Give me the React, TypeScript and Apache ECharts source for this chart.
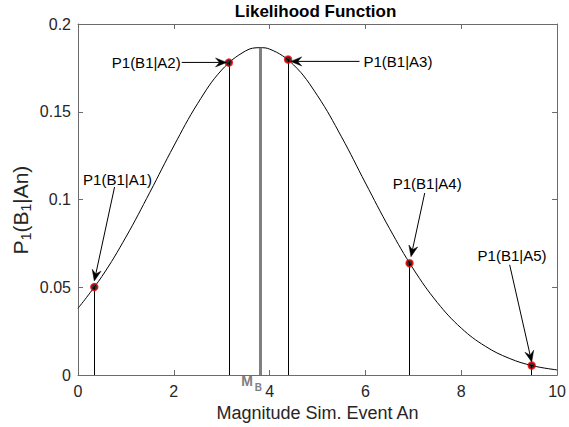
import React, { useEffect, useRef } from "react";
import * as echarts from "echarts";

const FONT = '"Liberation Sans", Arial, Helvetica, sans-serif';

// Likelihood curve
const curveX = [0, 0.5, 1, 1.5, 2, 2.5, 3, 3.5, 3.8, 4, 4.5, 5, 5.5, 6, 6.5, 7, 7.5, 8, 8.5, 9, 9.5, 10];
const curveY = [0.038, 0.0562, 0.0786, 0.1041, 0.1305, 0.1548, 0.1738, 0.1847, 0.1865, 0.1857, 0.1767, 0.1591, 0.1357, 0.1094, 0.0836, 0.0604, 0.0413, 0.0267, 0.0164, 0.0095, 0.0052, 0.0029];

// Marked points P1(B1|An)
const pointLabels = ["P1(B1|A1)", "P1(B1|A2)", "P1(B1|A3)", "P1(B1|A4)", "P1(B1|A5)"];
const pointX = [0.34, 3.15, 4.385, 6.92, 9.47];
const pointY = [0.0501, 0.178, 0.1798, 0.0637, 0.0054];

// M_B line
const mbX = 3.8;
const mbY = 0.1865;

// Tick values
const xTicks = [0, 2, 4, 6, 8, 10];
const yTicks = [0, 0.05, 0.1, 0.15, 0.2];

// Annotation placement (data coordinates)
const annTextX = [0.825, 2.144, 5.959, 7.289, 9.06];
const annTextY = [0.1116, 0.1781, 0.1787, 0.1094, 0.0679];
const annAlign = ["center", "right", "left", "center", "center"];
const arrowFromX = [0.763, 2.165, 5.876, 7.237, 9.01];
const arrowFromY = [0.1071, 0.1781, 0.1787, 0.1037, 0.0628];
const arrowToX = [0.34, 3.1, 4.44, 6.95, 9.47];
const arrowToY = [0.0536, 0.1781, 0.1787, 0.0674, 0.0074];

export default function App() {
  const ref = useRef<HTMLDivElement>(null);

  useEffect(() => {
    const chart = echarts.init(ref.current!, null, { renderer: "svg" });
    const axisColor = "#6b6b6b";
    const labelColor = "#262626";
    const baseX: any = {
      type: "value",
      min: xTicks[0],
      max: xTicks[xTicks.length - 1],
      interval: xTicks[1] - xTicks[0],
      axisLine: { show: true, onZero: false, lineStyle: { color: axisColor, width: 1 } },
      axisTick: { show: true, inside: true, length: 5, lineStyle: { color: axisColor } },
      splitLine: { show: false },
    };
    const baseY: any = {
      type: "value",
      min: yTicks[0],
      max: yTicks[yTicks.length - 1],
      interval: yTicks[1] - yTicks[0],
      axisLine: { show: true, onZero: false, lineStyle: { color: axisColor, width: 1 } },
      axisTick: { show: true, inside: true, length: 5, lineStyle: { color: axisColor } },
      splitLine: { show: false },
    };

    const option: any = {
      animation: false,
      grid: { left: 78, right: 6, top: 24, bottom: 52 },
      xAxis: [
        {
          ...baseX,
          position: "bottom",
          axisLabel: { fontSize: 16, color: labelColor, margin: 8, fontFamily: FONT },
          name: "Magnitude Sim. Event An",
          nameLocation: "middle",
          nameGap: 29,
          nameTextStyle: { fontSize: 18, color: labelColor, fontFamily: FONT },
        },
        { ...baseX, position: "top", axisLabel: { show: false } },
      ],
      yAxis: [
        {
          ...baseY,
          position: "left",
          axisLabel: { fontSize: 16, color: labelColor, margin: 7, fontFamily: FONT },
        },
        { ...baseY, position: "right", axisLabel: { show: false } },
      ],
      series: [
        {
          type: "line",
          data: curveX.map((x, i) => [x, curveY[i]]),
          smooth: 0.4,
          showSymbol: false,
          symbol: "none",
          lineStyle: { color: "#000", width: 1 },
          z: 3,
          markLine: {
            silent: true,
            symbol: ["none", "none"],
            label: { show: false },
            lineStyle: { color: "#000", width: 1, type: "solid" },
            data: [
              ...pointX.map((x, i) => [{ coord: [x, 0] }, { coord: [x, pointY[i]] }]),
              [
                { coord: [mbX, 0], lineStyle: { color: "#808080", width: 3, type: "solid" } },
                { coord: [mbX, mbY] },
              ],
            ],
          },
        },
        {
          type: "scatter",
          data: pointX.map((x, i) => [x, pointY[i]]),
          symbol: "circle",
          symbolSize: 7,
          itemStyle: { color: "#000", borderColor: "#ff0000", borderWidth: 1.5 },
          z: 5,
        },
      ],
    };
    chart.setOption(option);

    const px = (x: number, y: number) => chart.convertToPixel({ gridIndex: 0 }, [x, y]) as number[];
    const graphics: any[] = [];
    pointLabels.forEach((t, i) => {
      const p = px(annTextX[i], annTextY[i]);
      graphics.push({
        type: "text",
        x: p[0],
        y: p[1],
        z: 10,
        style: { text: t, fontSize: 15, fill: "#000", fontFamily: FONT, align: annAlign[i], verticalAlign: "middle" },
      });
      // arrow
      const a = px(arrowFromX[i], arrowFromY[i]);
      const b = px(arrowToX[i], arrowToY[i]);
      const dx = b[0] - a[0];
      const dy = b[1] - a[1];
      const len = Math.sqrt(dx * dx + dy * dy);
      const ux = dx / len;
      const uy = dy / len;
      const nx = -uy;
      const ny = ux;
      const L = 11;
      const W = 4.5;
      const N = 7;
      graphics.push({
        type: "line",
        z: 10,
        shape: { x1: a[0], y1: a[1], x2: b[0] - ux * N, y2: b[1] - uy * N },
        style: { stroke: "#000", lineWidth: 1 },
      });
      graphics.push({
        type: "polygon",
        z: 10,
        shape: {
          points: [
            [b[0], b[1]],
            [b[0] - ux * L + nx * W, b[1] - uy * L + ny * W],
            [b[0] - ux * N, b[1] - uy * N],
            [b[0] - ux * L - nx * W, b[1] - uy * L - ny * W],
          ],
        },
        style: { fill: "#000", stroke: "#000", lineWidth: 0.5 },
      });
    });
    const c = px(5, 0.2);
    graphics.push({
      type: "text",
      x: c[0] - 2,
      y: c[1] - 13,
      style: {
        text: "Likelihood Function",
        fontSize: 17,
        fontWeight: "bold",
        fill: "#000",
        fontFamily: FONT,
        align: "center",
        verticalAlign: "middle",
      },
    });
    // y-axis title with subscripts
    const yl = px(0, 0.094);
    graphics.push({
      type: "text",
      x: yl[0] - 58,
      y: yl[1],
      rotation: Math.PI / 2,
      style: {
        text: "{a|P}{s|1}{a|(B}{s|1}{a||An)}",
        fontFamily: FONT,
        align: "center",
        verticalAlign: "middle",
        rich: {
          a: { fontSize: 21, lineHeight: 25, fill: labelColor, fontFamily: FONT },
          s: { fontSize: 14, lineHeight: 14, fill: labelColor, fontFamily: FONT, verticalAlign: "bottom" },
        },
      },
    });
    const m = px(3.65, 0);
    graphics.push({
      type: "text",
      x: m[0],
      y: m[1] + 6,
      style: { text: "M", fontSize: 14, fontWeight: "bold", fill: "#808080", fontFamily: FONT, align: "right", verticalAlign: "middle" },
    });
    graphics.push({
      type: "text",
      x: m[0] + 2,
      y: m[1] + 12,
      style: { text: "B", fontSize: 10, fontWeight: "bold", fill: "#808080", fontFamily: FONT, align: "left", verticalAlign: "middle" },
    });
    chart.setOption({ graphic: graphics });

    return () => chart.dispose();
  }, []);

  return (
    <div
      ref={ref}
      style={{ position: "fixed", left: 0, top: 0, width: 569, height: 427, background: "#fff" }}
    />
  );
}
